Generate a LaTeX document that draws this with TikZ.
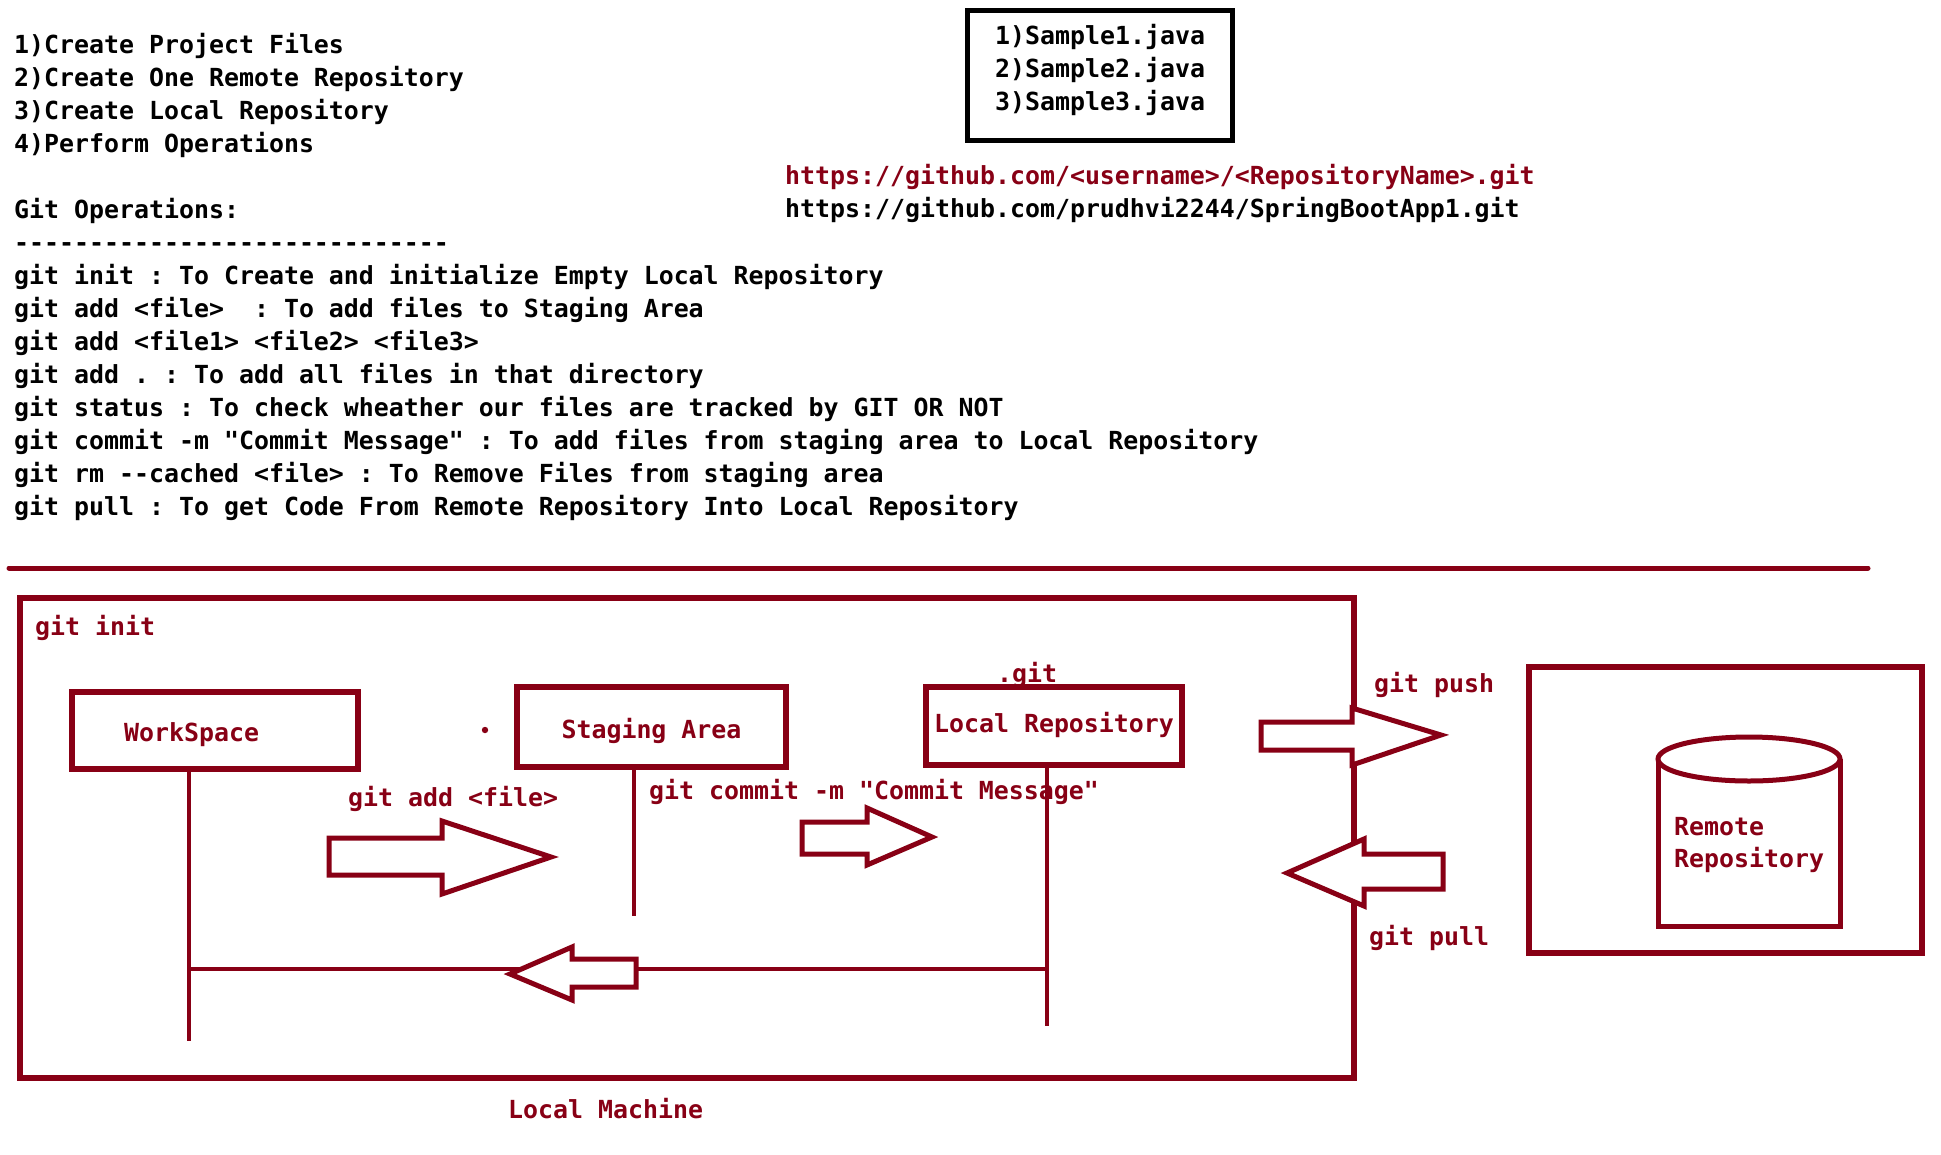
\documentclass[tikz,border=0pt]{standalone}
\usepackage{fontspec}
\setmonofont{DejaVu Sans Mono}
\definecolor{dred}{HTML}{880015}
\begin{document}
\begin{tikzpicture}[x=1pt,y=-1pt,
  txt/.style={font=\ttfamily\bfseries\fontsize{24.9}{30}\selectfont, anchor=base west, inner sep=0pt},
  blk/.style={txt, text=black},
  rtx/.style={txt, text=dred},
  rbox/.style={draw=dred, line width=5.5pt, inner sep=0pt, font=\ttfamily\bfseries\fontsize{24.9}{30}\selectfont, text=dred, text height=18pt, text depth=5pt},
  conn/.style={draw=dred, line width=4.5pt},
  harrow/.style={draw=dred, line width=5pt, fill=white, line join=miter},
]
\useasboundingbox (0,0) rectangle (1941,1154);
\fill[white] (0,0) rectangle (1941,1154);

% ---- top texts ----
\node[blk] (t1) at (14,53) {1)Create Project Files};
\node[blk] (t2) at (14,86) {2)Create One Remote Repository};
\node[blk] (t3) at (14,119) {3)Create Local Repository};
\node[blk] (t4) at (14,152) {4)Perform Operations};
\node[blk] (t5) at (14,218) {Git Operations:};
\node[blk] (t6) at (14,251) {-----------------------------};
\node[blk] (t7) at (14,284) {git init : To Create and initialize Empty Local Repository};
\node[blk] (t8) at (14,317) {git add <file>\ \ : To add files to Staging Area};
\node[blk] (t9) at (14,350) {git add <file1> <file2> <file3>};
\node[blk] (t10) at (14,383) {git add . : To add all files in that directory};
\node[blk] (t11) at (14,416) {git status : To check wheather our files are tracked by GIT OR NOT};
\node[blk] (t12) at (14,449) {git commit -m "Commit Message" : To add files from staging area to Local Repository};
\node[blk] (t13) at (14,482) {git rm --cached <file> : To Remove Files from staging area};
\node[blk] (t14) at (14,515) {git pull : To get Code From Remote Repository Into Local Repository};

% ---- sample files box ----
\node[draw=black, line width=5pt, minimum width=265pt, minimum height=130pt] (files) at (1099.5,75) {};
\node[blk] (s1) at (995,44) {1)Sample1.java};
\node[blk] (s2) at (995,77) {2)Sample2.java};
\node[blk] (s3) at (995,110) {3)Sample3.java};

% ---- urls ----
\node[rtx] (u1) at (785,184) {https://github.com/<username>/<RepositoryName>.git};
\node[blk] (u2) at (785,217) {https://github.com/prudhvi2244/SpringBootApp1.git};

% ---- separator ----
\coordinate (sepL) at (9,568);
\coordinate (sepR) at (1868,568);
\draw[dred, line width=5pt, line cap=round] (sepL) -- (sepR);

% ---- local machine ----
\node[rbox, minimum width=1334pt, minimum height=480pt, text height=0pt, text depth=0pt] (lm) at (687,838) {};
\node[rtx] (gi) at (35,635) {git init};
\node[rtx] (lmlab) at (508,1118) {Local Machine};

\node[rbox, minimum width=286pt, minimum height=77pt, text height=0pt, text depth=0pt] (ws) at (215,730.5) {};
\node[rtx] (wslab) at (124,741) {WorkSpace};
\fill[dred] (485,730) circle (3.2pt);
\node[rbox, minimum width=269pt, minimum height=80pt, text height=28pt, text depth=5pt] (sa) at (651.5,727) {Staging Area};
\node[rbox, minimum width=256pt, minimum height=78pt] (lr) at (1054,726) {Local Repository};
\node[rtx] (dotgit) at (997,682) {.git};

% connectors
\coordinate (wsb) at (189,1041);
\coordinate (sab) at (634,916);
\coordinate (lrb) at (1047,1026);
\draw[conn] (wsb |- ws.south) -- (wsb);
\draw[conn] (sab |- sa.south) -- (sab);
\draw[conn] (lrb |- lr.south) -- (lrb);
\draw[conn] (wsb |- 0,969) -- (lrb |- 0,969);

% hollow arrows
\draw[harrow] (329,838) -- (442,838) -- (442,821) -- (551,857) -- (442,894) -- (442,875) -- (329,875) -- cycle;
\draw[harrow] (802,822) -- (867,822) -- (867,808) -- (932,837) -- (867,865) -- (867,854) -- (802,854) -- cycle;
\draw[harrow] (510,974) -- (572,947) -- (572,959) -- (636,959) -- (636,987) -- (572,987) -- (572,1000) -- cycle;
\draw[harrow] (1261,722) -- (1352,722) -- (1352,708) -- (1441,735) -- (1352,765) -- (1352,750) -- (1261,750) -- cycle;
\draw[harrow] (1287,873) -- (1364,839) -- (1364,854) -- (1443,854) -- (1443,889) -- (1364,889) -- (1364,906) -- cycle;

\node[rtx] (addlab) at (348,806) {git add <file>};
\node[rtx] (comlab) at (649,799) {git commit -m "Commit Message"};
\node[rtx] (pushlab) at (1374,692) {git push};
\node[rtx] (pulllab) at (1369,945) {git pull};

% ---- remote ----
\node[rbox, minimum width=393pt, minimum height=286pt, text height=0pt, text depth=0pt] (rm) at (1725.5,810) {};
\draw[dred, line width=5pt] (1658,759) -- (1658,926) -- (1840,926) -- (1840,759);
\draw[dred, line width=5pt, fill=white] (1749,759) ellipse [x radius=91, y radius=22];
\node[rtx] (rl1) at (1674,835) {Remote};
\node[rtx] (rl2) at (1674,867) {Repository};
\end{tikzpicture}
\end{document}
